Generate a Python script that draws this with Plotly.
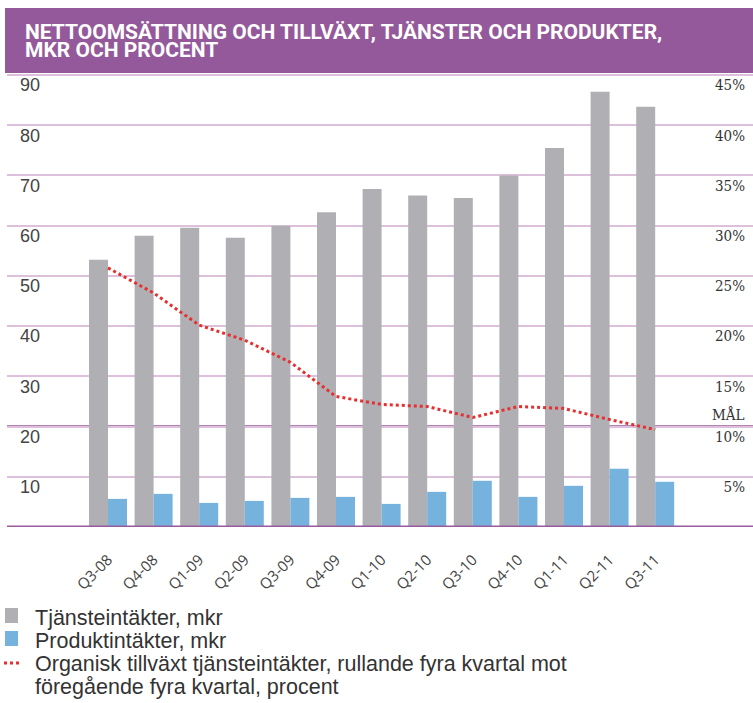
import plotly.graph_objects as go

categories = ["Q3-08", "Q4-08", "Q1-09", "Q2-09", "Q3-09", "Q4-09", "Q1-10",
              "Q2-10", "Q3-10", "Q4-10", "Q1-11", "Q2-11", "Q3-11"]
tjanst = [53.2, 58.0, 59.6, 57.6, 60.0, 62.7, 67.3, 66.0, 65.5, 70.0, 75.5, 86.7, 83.7]
produkt = [5.6, 6.6, 4.8, 5.2, 5.8, 6.0, 4.6, 7.0, 9.2, 6.0, 8.2, 11.6, 9.0]
tillvaxt = [25.8, 23.3, 20.1, 18.6, 16.4, 13.0, 12.2, 12.0, 10.9, 12.0, 11.8, 10.7, 9.7]

left_ticks = [10, 20, 30, 40, 50, 60, 70, 80, 90]
right_ticks = [5, 10, 15, 20, 25, 30, 35, 40, 45]
right_labels = [f"{v}%" for v in right_ticks]
goal_value = 10  # percent
title_lines = ["NETTOOMSÄTTNING OCH TILLVÄXT, TJÄNSTER OCH PRODUKTER,", "MKR OCH PROCENT"]
legend_names = ["Tjänsteintäkter, mkr", "Produktintäkter, mkr",
                "Organisk tillväxt tjänsteintäkter, rullande fyra kvartal mot",
                "föregående fyra kvartal, procent"]

GRAY = "#b0afb4"
BLUE = "#76b2de"
RED = "#e63030"
PURPLE = "#94599b"
DARKLINE = "#9a5aa0"
LIGHT = "#dcc0dc"
TXT = "#333333"

W, H = 753, 703
top, bottom, left = 60, 176, 7
ph = H - top - bottom
pw = W - left
YMAX = 93


def py(pix):
    return (H - bottom - pix) / ph


def px(pix):
    return (pix - left) / pw


fig = go.Figure()
fig.add_trace(go.Bar(x=categories, y=tjanst, name=legend_names[0],
                     marker=dict(color=GRAY, line=dict(width=0))))
fig.add_trace(go.Bar(x=categories, y=produkt, name=legend_names[1],
                     marker=dict(color=BLUE, line=dict(width=0))))
fig.add_trace(go.Scatter(x=categories, y=tillvaxt, yaxis="y2", mode="lines",
                         name=legend_names[2] + " " + legend_names[3],
                         line=dict(color=RED, width=3, dash="dot")))

shapes = [
    dict(type="rect", xref="paper", yref="paper", x0=px(5), x1=1.01, y0=py(73), y1=py(8),
         fillcolor=PURPLE, line=dict(width=0), layer="above"),
    dict(type="line", xref="paper", yref="y", x0=0, x1=1, y0=0, y1=0,
         line=dict(color=DARKLINE, width=3), layer="above"),
    dict(type="line", xref="paper", yref="y2", x0=0, x1=1, y0=goal_value, y1=goal_value,
         line=dict(color=DARKLINE, width=2.5), layer="below"),
    # legend symbols
    dict(type="rect", xref="paper", yref="paper", x0=px(5), x1=px(18), y0=py(623), y1=py(608),
         fillcolor=GRAY, line=dict(width=0)),
    dict(type="rect", xref="paper", yref="paper", x0=px(5), x1=px(18), y0=py(646), y1=py(631),
         fillcolor=BLUE, line=dict(width=0)),
    dict(type="line", xref="paper", yref="paper", x0=px(4), x1=px(20), y0=py(663), y1=py(663),
         line=dict(color=RED, width=3, dash="dot")),
]

title_font = dict(family="Roboto, Liberation Sans", size=21, color="white")
legend_font = dict(family="Liberation Sans, Arial", size=21.5, color=TXT)

annotations = [
    dict(text=f"<b>{title_lines[0]}</b>", xref="paper", yref="paper", x=px(23),
         y=py(32), xanchor="left", yanchor="middle", showarrow=False, font=title_font),
    dict(text=f"<b>{title_lines[1]}</b>", xref="paper", yref="paper", x=px(23),
         y=py(50), xanchor="left", yanchor="middle", showarrow=False, font=title_font),
    dict(text="MÅL", xref="paper", yref="y2", x=px(747), y=goal_value,
         xanchor="right", yanchor="bottom", yshift=1, showarrow=False,
         font=dict(family="DejaVu Serif Condensed, DejaVu Serif", size=15, color=TXT)),
]
for i, name in enumerate(legend_names):
    annotations.append(dict(text=name, xref="paper", yref="paper", x=px(33),
                            y=py(618 + 23 * i), xanchor="left", yanchor="middle",
                            showarrow=False, font=legend_font))

fig.update_layout(
    width=W, height=H,
    margin=dict(l=left, r=0, t=top, b=bottom, pad=0, autoexpand=False),
    paper_bgcolor="white", plot_bgcolor="white",
    barmode="group", bargap=0.167, bargroupgap=0,
    showlegend=False,
    xaxis=dict(range=[-2.215, 14.145], showgrid=False, zeroline=False, showline=False,
               automargin=False, tickangle=-45, ticks="", ticklabelstandoff=20,
               tickfont=dict(family="Open Sans, Noto Sans", size=15, color="#444")),
    yaxis=dict(range=[0, YMAX], tickvals=left_ticks, showgrid=True, gridcolor=LIGHT, gridwidth=1.5,
               zeroline=False, showline=False, ticks="", ticklabelposition="inside",
               automargin=False, ticklabelshift=10, ticklabelstandoff=10,
               tickfont=dict(family="Liberation Sans Narrow, Liberation Sans", size=18, color="#444")),
    yaxis2=dict(range=[0, YMAX / 2], tickvals=right_ticks, ticktext=right_labels, overlaying="y",
                side="right", showgrid=False, zeroline=False, showline=False, ticks="",
                automargin=False, ticklabelposition="inside", ticklabelshift=10, ticklabelstandoff=5,
                tickfont=dict(family="DejaVu Serif Condensed, DejaVu Serif", size=15, color=TXT)),
    shapes=shapes, annotations=annotations,
)

fig.write_html("out.html")
